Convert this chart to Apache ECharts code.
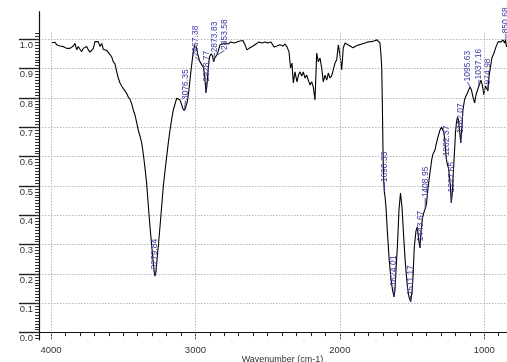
<!DOCTYPE html>
<html>
<head>
<meta charset="utf-8">
<script src="https://cdn.jsdelivr.net/npm/echarts@6/dist/echarts.min.js"></script>
<style>
  html, body { margin: 0; padding: 0; background: #fff; }
  #chart { width: 507px; height: 362px; }
</style>
</head>
<body>
<div id="chart"></div>
<script>
// IR spectrum: wavenumber (cm-1) vs. transmittance
const wavenumbers = [
  3995.2, 3984.1, 3972.3, 3960.5, 3949.5, 3937.7, 3925.9, 3914.8, 3903.1, 3891.3,
  3880.2, 3868.4, 3856.7, 3845.6, 3833.8, 3822.0, 3810.9, 3799.2, 3787.4, 3776.4,
  3764.6, 3752.8, 3741.7, 3729.9, 3718.2, 3707.1, 3695.3, 3683.6, 3672.5, 3660.7,
  3648.9, 3637.9, 3626.1, 3614.3, 3603.3, 3591.5, 3579.7, 3568.6, 3556.9, 3545.1,
  3534.0, 3522.2, 3510.5, 3499.4, 3487.6, 3475.8, 3464.8, 3453.0, 3441.2, 3430.1,
  3418.4, 3406.6, 3395.5, 3383.8, 3372.0, 3360.9, 3349.1, 3337.4, 3326.3, 3314.5,
  3302.8, 3291.7, 3285.5, 3280.0, 3273.1, 3264.0, 3254.3, 3245.3, 3233.5, 3222.4,
  3210.7, 3198.9, 3187.8, 3176.0, 3164.3, 3153.2, 3141.4, 3129.6, 3118.6, 3106.8,
  3096.4, 3088.1, 3077.0, 3068.7, 3056.3, 3046.6, 3037.6, 3028.6, 3018.9, 3009.9,
  3002.9, 2992.5, 2982.2, 2968.3, 2954.5, 2942.7, 2933.7, 2926.8, 2919.9, 2910.9,
  2902.6, 2892.2, 2881.8, 2874.2, 2865.9, 2853.5, 2843.7, 2829.8, 2812.5, 2795.2,
  2774.5, 2753.7, 2732.9, 2712.2, 2691.4, 2670.6, 2656.7, 2642.9, 2622.1, 2601.3,
  2580.5, 2559.8, 2539.0, 2518.2, 2497.5, 2476.7, 2455.9, 2435.1, 2414.4, 2393.6,
  2379.7, 2365.9, 2352.0, 2341.6, 2331.3, 2322.3, 2310.5, 2296.7, 2286.3, 2275.9,
  2264.1, 2253.1, 2241.3, 2229.5, 2218.5, 2206.7, 2194.9, 2183.9, 2172.1, 2160.3,
  2149.2, 2137.4, 2125.7, 2114.6, 2102.8, 2091.1, 2080.0, 2068.2, 2056.5, 2045.4,
  2033.6, 2021.8, 2010.7, 1998.9, 1987.2, 1976.1, 1964.3, 1950.5, 1929.7, 1908.9,
  1888.2, 1867.4, 1846.6, 1825.9, 1805.1, 1784.3, 1763.5, 1742.8, 1732.4, 1722.0,
  1715.1, 1710.3, 1706.1, 1701.3, 1696.4, 1692.3, 1687.6, 1680.7, 1671.7, 1659.7,
  1648.0, 1635.5, 1625.1, 1618.2, 1611.3, 1600.9, 1590.6, 1580.2, 1569.8, 1558.0,
  1545.5, 1531.7, 1521.3, 1509.5, 1500.5, 1493.6, 1484.6, 1472.8, 1463.8, 1454.1,
  1445.1, 1438.2, 1427.8, 1417.4, 1409.1, 1400.1, 1389.7, 1375.9, 1364.1, 1355.1,
  1341.2, 1330.8, 1320.5, 1306.6, 1296.2, 1289.3, 1278.9, 1272.0, 1265.1, 1261.6,
  1254.7, 1247.8, 1240.8, 1235.3, 1228.4, 1221.5, 1214.6, 1206.3, 1199.4, 1192.5,
  1185.5, 1178.6, 1171.7, 1162.7, 1154.4, 1147.5, 1137.1, 1126.7, 1116.3, 1105.9,
  1099.0, 1088.6, 1078.2, 1066.5, 1057.5, 1047.1, 1036.7, 1022.8, 1012.5, 1002.1,
  993.1, 984.8, 975.0, 967.4, 957.0, 946.7, 932.8, 918.9, 905.1, 884.3,
  870.4, 860.0, 853.1, 846.1, 842.7
];
const transmittance = [
  0.988, 0.986, 0.990, 0.981, 0.984, 0.977, 0.983, 0.975, 0.981, 0.969,
  0.975, 0.969, 0.971, 0.977, 0.986, 0.964, 0.975, 0.966, 0.958, 0.969,
  0.964, 0.975, 0.964, 0.956, 0.950, 0.969, 0.992, 0.988, 0.992, 0.975,
  0.986, 0.966, 0.969, 0.962, 0.966, 0.948, 0.940, 0.923, 0.916, 0.889,
  0.868, 0.851, 0.841, 0.832, 0.824, 0.815, 0.803, 0.795, 0.780, 0.759,
  0.742, 0.716, 0.690, 0.670, 0.647, 0.609, 0.561, 0.507, 0.435, 0.361,
  0.296, 0.238, 0.207, 0.193, 0.207, 0.259, 0.309, 0.361, 0.432, 0.498,
  0.551, 0.600, 0.647, 0.690, 0.728, 0.759, 0.779, 0.799, 0.800, 0.793,
  0.779, 0.765, 0.757, 0.766, 0.787, 0.820, 0.861, 0.902, 0.941, 0.970,
  0.982, 0.970, 0.946, 0.923, 0.912, 0.902, 0.861, 0.817, 0.844, 0.902,
  0.940, 0.950, 0.943, 0.923, 0.936, 0.945, 0.957, 0.981, 0.984, 0.987,
  0.984, 0.991, 0.987, 0.991, 0.994, 0.996, 0.981, 0.964, 0.971, 0.977,
  0.984, 0.991, 0.987, 0.991, 0.987, 0.991, 0.974, 0.977, 0.981, 0.977,
  0.984, 0.974, 0.957, 0.902, 0.919, 0.851, 0.889, 0.855, 0.878, 0.889,
  0.875, 0.889, 0.868, 0.878, 0.861, 0.844, 0.855, 0.838, 0.793, 0.953,
  0.923, 0.936, 0.902, 0.855, 0.878, 0.861, 0.885, 0.868, 0.875, 0.878,
  0.919, 0.930, 0.981, 0.946, 0.896, 0.971, 0.987, 0.981, 0.977, 0.971,
  0.977, 0.981, 0.984, 0.987, 0.991, 0.992, 0.994, 0.998, 0.998, 0.987,
  0.946, 0.906, 0.793, 0.623, 0.520, 0.480, 0.466, 0.428, 0.350, 0.258,
  0.190, 0.146, 0.122, 0.146, 0.214, 0.299, 0.418, 0.476, 0.428, 0.326,
  0.231, 0.153, 0.122, 0.105, 0.139, 0.190, 0.292, 0.347, 0.360, 0.316,
  0.289, 0.343, 0.391, 0.411, 0.422, 0.438, 0.493, 0.545, 0.589, 0.609,
  0.623, 0.647, 0.667, 0.691, 0.701, 0.701, 0.681, 0.650, 0.606, 0.589,
  0.572, 0.561, 0.555, 0.504, 0.442, 0.476, 0.544, 0.616, 0.681, 0.718,
  0.735, 0.725, 0.691, 0.647, 0.708, 0.759, 0.793, 0.807, 0.817, 0.830,
  0.837, 0.827, 0.803, 0.783, 0.810, 0.827, 0.841, 0.861, 0.841, 0.810,
  0.841, 0.834, 0.824, 0.872, 0.906, 0.937, 0.953, 0.974, 0.991, 0.991,
  0.998, 0.987, 0.998, 0.974, 0.981
];

// Picked peak positions (label text) and the transmittance at each
const peakLabels = [
  '3279.84', '3076.35', '2967.38', '2928.77', '2873.83', '2853.58',
  '1690.33', '1624.01', '1511.17', '1443.67', '1408.95', '1262.37',
  '1227.65', '1162.07', '1095.63', '1037.16', '974.98', '850.68'
];
const peakValues = [
  0.193, 0.757, 0.923, 0.817, 0.923, 0.945,
  0.480, 0.122, 0.105, 0.289, 0.422, 0.589,
  0.442, 0.647, 0.834, 0.841, 0.824, 0.998
];

const xTickLabels = [4000, 3000, 2000, 1000];
const yTickLabels = [0.0, 0.1, 0.2, 0.3, 0.4, 0.5, 0.6, 0.7, 0.8, 0.9, 1.0];

// Minor tick positions: every 100 cm-1 and every 0.01
const xMinorTicks = [];
for (let w = 4000; w >= 900; w -= 100) xMinorTicks.push(w);
const yMinorTicks = [];
for (let i = -2; i <= 102; i++) yMinorTicks.push(+(i / 100).toFixed(2));

// Label placement tweaks for crowded peaks: [dx, leader length]
const labelNudge = {
  '3076.35': [1, 10], '2967.38': [-4.5, 5], '2928.77': [1, 11],
  '2873.83': [1, 9], '2853.58': [8, 5], '1690.33': [0, 9],
  '1624.01': [0, 10], '1408.95': [0, 11], '1262.37': [0, 3],
  '1227.65': [0, 10], '1162.07': [0, 9], '1095.63': [-3, 6]
};

const X_MIN = 842.7, X_MAX = 4083;
const Y_MIN = -0.025, Y_MAX = 1.094;
const FRAME_TOP = 1.022;
const FONT = '"Liberation Sans", Arial, sans-serif';
const ANNOT = '#3a3aa2';

const chart = echarts.init(document.getElementById('chart'), null, { renderer: 'canvas' });

const spectrum = wavenumbers.map((w, i) => [w, transmittance[i]]);
const peaks = peakLabels.map((s, i) => [parseFloat(s), peakValues[i]]);

chart.setOption({
  animation: false,
  backgroundColor: '#fff',
  grid: { left: 39, right: 0, top: 11.7, bottom: 22, containLabel: false, outerBoundsMode: 'none' },
  xAxis: [
    {
      type: 'value', inverse: true, min: X_MIN, max: X_MAX, position: 'bottom',
      name: 'Wavenumber (cm-1)', nameLocation: 'middle', nameGap: 15.5, nameMoveOverlap: false,
      nameTextStyle: { fontFamily: FONT, fontSize: 9, color: '#333', padding: [0, 0, 0, 19] },
      axisLine: { show: true, lineStyle: { color: '#111', width: 1 } },
      axisTick: { show: true, customValues: xTickLabels, length: 6, lineStyle: { color: '#222', width: 1 } },
      axisLabel: {
        show: true, customValues: xTickLabels, margin: 5, fontFamily: FONT, fontSize: 9.5, color: '#333',
        formatter: v => String(v)
      },
      splitLine: { show: false }
    },
    {
      type: 'value', inverse: true, min: X_MIN, max: X_MAX, position: 'bottom',
      axisLine: { show: false },
      axisTick: { show: true, customValues: xMinorTicks, length: 3.5, lineStyle: { color: '#222', width: 1 } },
      axisLabel: { show: false },
      splitLine: { show: false }
    }
  ],
  yAxis: [
    {
      type: 'value', min: Y_MIN, max: Y_MAX, position: 'left',
      axisLine: { show: true, lineStyle: { color: '#111', width: 1.2 } },
      axisTick: { show: true, customValues: yTickLabels, length: 20, lineStyle: { color: '#222', width: 1.4 } },
      axisLabel: {
        show: true, customValues: yTickLabels, margin: 6, fontFamily: FONT, fontSize: 9.5, color: '#333',
        verticalAlign: 'top', padding: [1, 0, 0, 0],
        formatter: v => v.toFixed(1)
      },
      splitLine: { show: true, lineStyle: { type: [1.5, 1.5], color: '#b8b8b8', width: 1 } }
    },
    {
      type: 'value', min: Y_MIN, max: Y_MAX, position: 'left',
      axisLine: { show: false },
      axisTick: { show: true, customValues: yMinorTicks, length: 4, lineStyle: { color: '#333', width: 1 } },
      axisLabel: { show: false },
      splitLine: { show: false }
    }
  ],
  series: [
    {
      type: 'line',
      data: spectrum,
      xAxisIndex: 0, yAxisIndex: 0,
      showSymbol: false, symbol: 'none',
      lineStyle: { color: '#000', width: 1.1 },
      silent: true,
      markLine: {
        silent: true, symbol: 'none', label: { show: false },
        lineStyle: { type: [1.5, 1.5], color: '#b8b8b8', width: 1 },
        data: xTickLabels.map(w => [{ coord: [w, FRAME_TOP] }, { coord: [w, Y_MIN] }])
      },
      z: 3
    },
    {
      type: 'custom',
      xAxisIndex: 0, yAxisIndex: 0,
      data: peaks,
      encode: { x: 0, y: 1 },
      silent: true,
      z: 4,
      renderItem: function (params, api) {
        const label = peakLabels[params.dataIndex];
        const p = api.coord([api.value(0), api.value(1)]);
        const n = labelNudge[label] || [0, 6];
        const tx = p[0] + n[0];
        const ty = p[1] - n[1];
        return {
          type: 'group',
          children: [
            {
              type: 'line',
              shape: { x1: p[0], y1: p[1], x2: tx, y2: ty },
              style: { stroke: ANNOT, lineWidth: 0.9 }
            },
            {
              type: 'text',
              x: tx, y: ty - 0.5,
              rotation: Math.PI / 2,
              style: {
                text: label, fill: ANNOT, fontFamily: FONT, fontSize: 8.5,
                align: 'left', verticalAlign: 'middle'
              }
            }
          ]
        };
      }
    }
  ]
});
</script>
</body>
</html>
